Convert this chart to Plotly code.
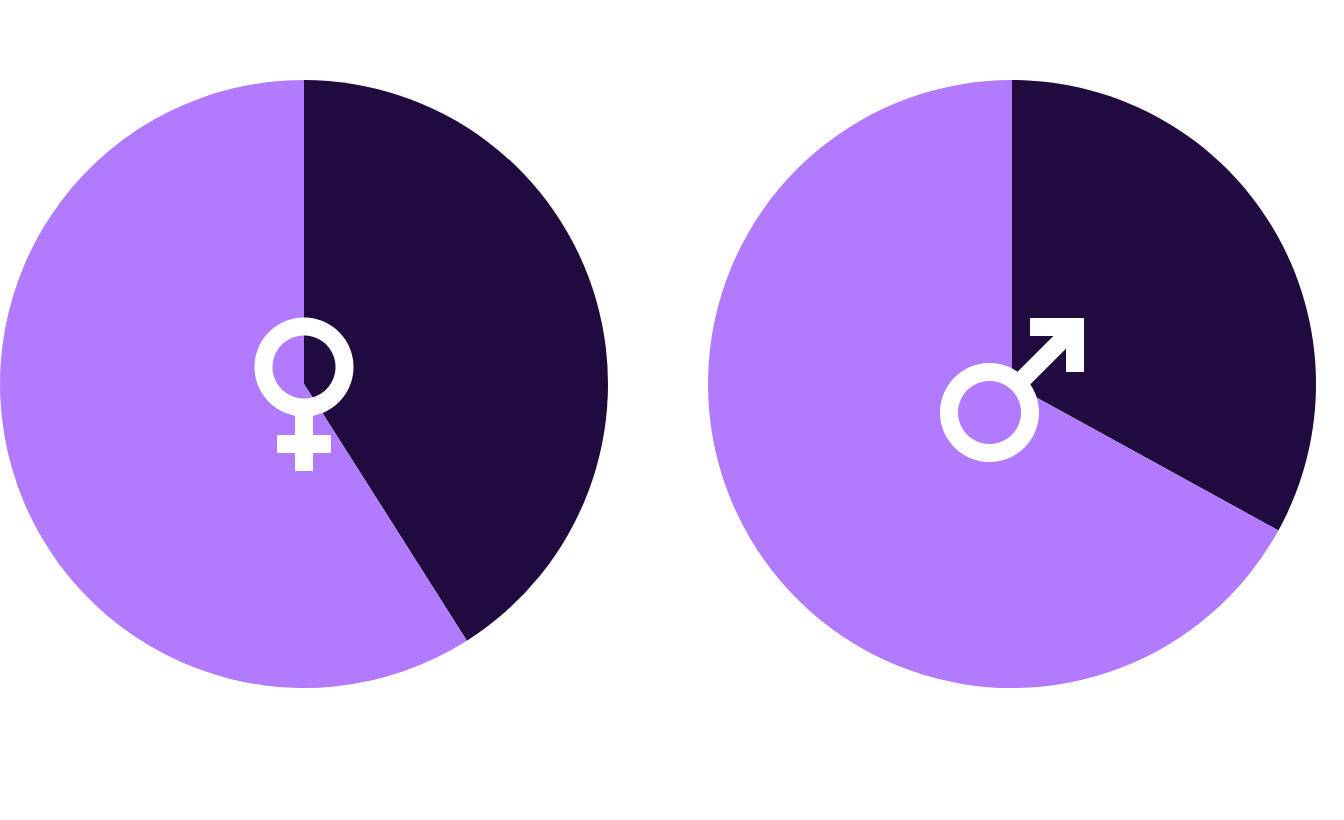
import math

import plotly.graph_objects as go

W = 1344
H = 820

labels = ["Yes", "No"]
female_values = [41, 59]
male_values = [33, 67]
colors = ["#210B3E", "#B17AFF"]


# pixel position on the page -> paper coordinates
def px(x):
    return x / W


def py(y):
    return 1 - y / H


def circle_path(cx, cy, r):
    pts = []
    for i in range(180):
        a = 2 * math.pi * i / 180
        pts.append(f"{px(cx + r * math.cos(a))},{py(cy + r * math.sin(a))}")
    return "M" + " L".join(pts) + " Z"


def ring(cx, cy, outer=49.5, inner=31.5):
    # evenodd fill leaves the inside of the ring open
    return dict(type="path", xref="paper", yref="paper",
                path=circle_path(cx, cy, outer) + " " + circle_path(cx, cy, inner),
                fillcolor="white", line=dict(width=0), fillrule="evenodd")


def bar(x0, y0, x1, y1):
    return dict(type="line", xref="paper", yref="paper",
                x0=px(x0), y0=py(y0), x1=px(x1), y1=py(y1),
                line=dict(color="white", width=18))


def pie(values, x0, x1):
    return go.Pie(
        labels=labels,
        values=values,
        sort=False,
        direction="clockwise",
        rotation=0,
        textinfo="none",
        hoverinfo="label+percent",
        marker=dict(colors=colors, line=dict(width=0)),
        domain=dict(x=[px(x0), px(x1)], y=[py(688), py(80)]),
    )


fig = go.Figure([pie(female_values, 0, 608), pie(male_values, 708, 1316)])

fig.update_layout(
    width=W,
    height=H,
    margin=dict(l=0, r=0, t=0, b=0),
    showlegend=False,
    paper_bgcolor="white",
    shapes=[
        # female symbol
        ring(304, 367),
        bar(304, 407, 304, 471),
        bar(277, 444, 331, 444),
        # male symbol
        ring(989.5, 412.5),
        bar(1018, 384, 1066, 336),
        bar(1030, 327, 1084, 327),
        bar(1075, 318, 1075, 372),
    ],
)

# the page's default body margin would push the figure 8px in
fig.write_html("out.html", config={"displayModeBar": False},
               post_script="document.body.style.margin = '0';")
